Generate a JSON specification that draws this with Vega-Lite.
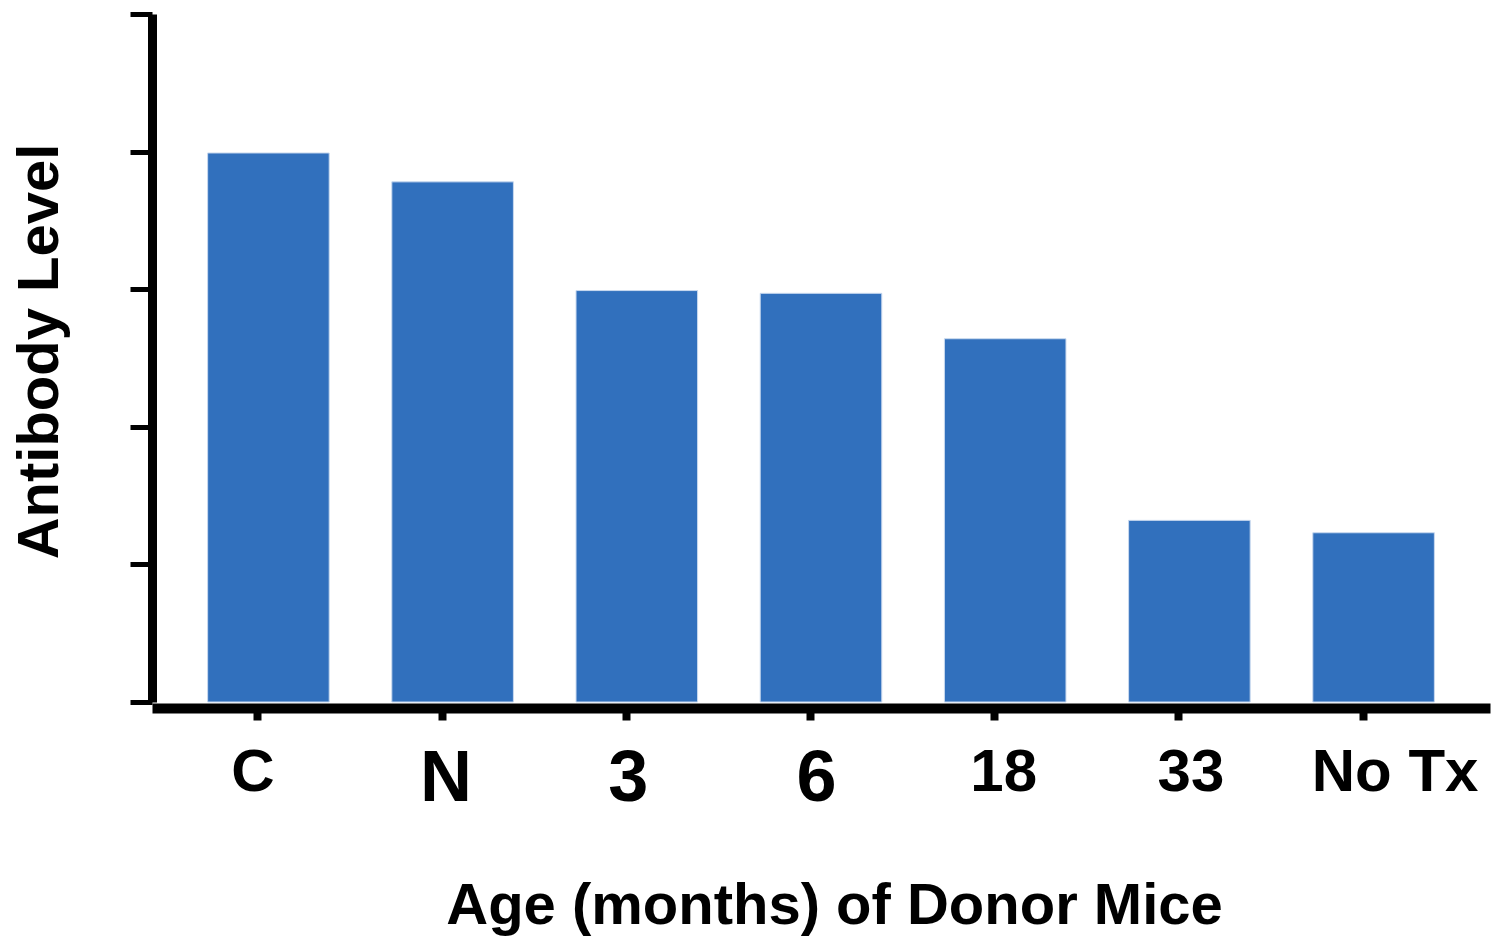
{
  "$schema": "https://vega.github.io/schema/vega-lite/v6.json",
  "autosize": "none",
  "width": 1338,
  "height": 688,
  "padding": {"left": 152, "top": 14, "right": 16, "bottom": 234},
  "background": "white",
  "config": {"view": {"stroke": null}, "font": "Liberation Sans"},
  "data": {
    "values": [
      {"group": "C", "level": 3.99},
      {"group": "N", "level": 3.78},
      {"group": "3", "level": 2.99},
      {"group": "6", "level": 2.97},
      {"group": "18", "level": 2.64},
      {"group": "33", "level": 1.32},
      {"group": "No Tx", "level": 1.23}
    ]
  },
  "mark": {"type": "bar", "color": "#3170bd", "stroke": "#c9d9ef", "strokeWidth": 1},
  "encoding": {
    "x": {
      "field": "group",
      "type": "nominal",
      "sort": null,
      "scale": {"paddingInner": 0.34, "paddingOuter": 0.302, "align": 0.5},
      "axis": {
        "title": "Age (months) of Donor Mice",
        "titleFont": "Liberation Sans",
        "titleFontSize": 58,
        "titleFontWeight": "bold",
        "titleColor": "black",
        "titlePadding": 63,
        "titleX": 682,
        "labelAngle": 0,
        "labelFont": "Liberation Sans",
        "labelFontWeight": "bold",
        "labelColor": "black",
        "labelFontSize": {"condition": {"test": "indexof(['N','3','6'], datum.value) >= 0", "value": 72}, "value": 60},
        "labelOffset": {"condition": [
          {"test": "datum.value == 'C'", "value": -5},
          {"test": "datum.value == 'N'", "value": 4},
          {"test": "datum.value == '3'", "value": 2},
          {"test": "datum.value == '6'", "value": 6},
          {"test": "datum.value == '18'", "value": 9},
          {"test": "datum.value == '33'", "value": 12}
        ], "value": 32},
        "labelPadding": 23,
        "tickOffset": -11,
        "tickSize": 12,
        "tickWidth": 8,
        "tickColor": "black",
        "domainColor": "black",
        "domainWidth": 10,
        "offset": 6,
        "grid": false
      }
    },
    "y": {
      "field": "level",
      "type": "quantitative",
      "scale": {"domain": [0, 5], "nice": false},
      "axis": {
        "title": "Antibody Level",
        "titleFont": "Liberation Sans",
        "titleFontSize": 58,
        "titleFontWeight": "bold",
        "titleColor": "black",
        "titlePadding": 58,
        "titleY": 337,
        "values": [0, 1, 2, 3, 4, 5],
        "labels": false,
        "tickSize": 22,
        "tickWidth": 5,
        "tickColor": "black",
        "domainColor": "black",
        "domainWidth": 9,
        "grid": false
      }
    }
  }
}
